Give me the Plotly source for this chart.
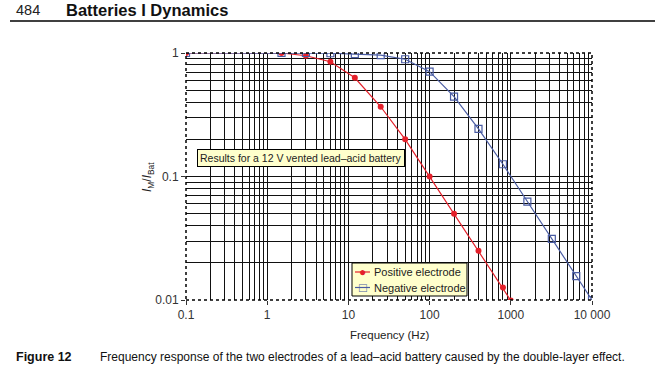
import plotly.graph_objects as go

# ---- data ----
pos_freq = [0.1, 1.5, 3, 6, 12, 25, 50, 100, 200, 400, 800, 1000]
pos_ratio = [1.0, 1.0, 0.95, 0.85, 0.63, 0.367, 0.2, 0.1, 0.05, 0.025, 0.0126, 0.0099]

neg_freq = [0.1, 1.5, 3, 6, 12, 25, 50, 100, 200, 400, 800, 1600, 3200, 6400, 10000]
neg_ratio = [1.0, 1.0, 1.0, 0.995, 0.98, 0.96, 0.89, 0.706, 0.443, 0.243, 0.1256,
             0.0625, 0.0312, 0.0156, 0.01]

series_names = ["Positive electrode", "Negative electrode"]

x_tickvals = [0.1, 1, 10, 100, 1000, 10000]
x_ticktext = ["0.1", "1", "10", "100", "1000", "10 000"]
y_tickvals = [0.01, 0.1, 1]
y_ticktext = ["0.01", "0.1", "1"]

RED = "#E4202A"
BLUE = "#4A5CA3"
FONT = "Liberation Sans, Arial, sans-serif"

# pixel geometry of plot area
L, R, T, B = 186, 592, 53, 300
W, H = 663, 375


def px(x):
    return (x - L) / (R - L)


def py(y):
    return (B - y) / (B - T)


minor_x = [m * 10 ** e for e in range(-1, 4) for m in range(2, 10)]
minor_y = [m * 10 ** e for e in range(-2, 0) for m in range(2, 10)]

fig = go.Figure()
fig.add_trace(go.Scatter(
    x=pos_freq, y=pos_ratio, mode="lines+markers", name=series_names[0],
    line=dict(color=RED, width=1.2),
    marker=dict(symbol="circle", size=6, color=RED),
))
fig.add_trace(go.Scatter(
    x=neg_freq, y=neg_ratio, mode="lines+markers", name=series_names[1],
    line=dict(color=BLUE, width=1.2),
    marker=dict(symbol="square-open", size=7, color=BLUE, line=dict(width=1.2)),
))

axis_common = dict(
    type="log", showline=False, zeroline=False,
    showgrid=True, gridcolor="#111111", gridwidth=1.2,
    ticks="outside", ticklen=4, tickcolor="#333333",
    tickfont=dict(family=FONT, size=12, color="#333333"),
)

fig.update_xaxes(
    **axis_common,
    range=[-1, 4], tickmode="array", tickvals=x_tickvals, ticktext=x_ticktext,
    minor=dict(tickmode="array", tickvals=minor_x, showgrid=True,
               gridcolor="#111111", gridwidth=1.2, ticks=""),
)
fig.update_yaxes(
    **axis_common,
    range=[-2, 0], tickmode="array", tickvals=y_tickvals, ticktext=y_ticktext,
    minor=dict(tickmode="array", tickvals=minor_y, showgrid=True,
               gridcolor="#111111", gridwidth=1.2, ticks=""),
)

shapes = [
    dict(type="rect", xref="paper", yref="paper", x0=0, x1=1, y0=0, y1=1,
         line=dict(color="black", width=1.5, dash="dot"), layer="above"),
    # header rule
    dict(type="line", xref="paper", yref="paper", x0=px(10), x1=px(655),
         y0=py(21), y1=py(21), line=dict(color="black", width=1.3)),
    # legend box
    dict(type="rect", xref="paper", yref="paper", x0=px(352), x1=px(467),
         y0=py(296), y1=py(263), fillcolor="#FFFFCC",
         line=dict(color="black", width=1), layer="above"),
    # legend sample lines
    dict(type="line", xref="paper", yref="paper", x0=px(355), x1=px(370),
         y0=py(272), y1=py(272), line=dict(color=RED, width=1.2), layer="above"),
    dict(type="line", xref="paper", yref="paper", x0=px(355), x1=px(370),
         y0=py(287.5), y1=py(287.5), line=dict(color=BLUE, width=1.2), layer="above"),
]


def ann(x, y, text, size, xanchor="center", **kw):
    d = dict(x=px(x), y=py(y), xref="paper", yref="paper", xanchor=xanchor,
             yanchor="middle", text=text, showarrow=False,
             font=dict(family=FONT, size=size, color=kw.pop("color", "#222222")))
    d.update(kw)
    return d


annotations = [
    ann(300.5, 157.5, "Results for a 12 V vented lead\u2013acid battery", 10.5,
        bgcolor="#FFFFCC", bordercolor="black", borderwidth=1, borderpad=2),
    ann(148, 177, "<i>I</i><sub>M</sub>/<i>I</i><sub>Bat</sub>", 12, textangle=-90),
    ann(389, 335, "Frequency (Hz)", 11.5),
    ann(14, 10, "484", 14.5, xanchor="left"),
    ann(64, 10, "<b>Batteries I Dynamics</b>", 16.5, xanchor="left", color="#111111"),
    ann(14, 357, "<b>Figure 12</b>", 12.5, xanchor="left", color="#111111"),
    ann(98, 357, "Frequency response of the two electrodes of a "
        "lead\u2013acid battery caused by the double-layer effect.", 12,
        xanchor="left", color="#111111"),
    # legend markers and labels
    ann(362.5, 272, "\u25CF", 12, color=RED),
    ann(362.5, 287.5, "\u25A1", 13, color=BLUE),
    ann(372, 272, series_names[0], 11, xanchor="left"),
    ann(372, 287.5, series_names[1], 11, xanchor="left"),
]

fig.update_layout(
    width=W, height=H,
    margin=dict(l=L, r=W - R, t=T, b=H - B, pad=0),
    paper_bgcolor="white", plot_bgcolor="white",
    showlegend=False,
    shapes=shapes, annotations=annotations,
    font=dict(family=FONT),
)

fig.write_html("out.html", config={"displayModeBar": False},
               post_script="document.body.style.margin='0';")
